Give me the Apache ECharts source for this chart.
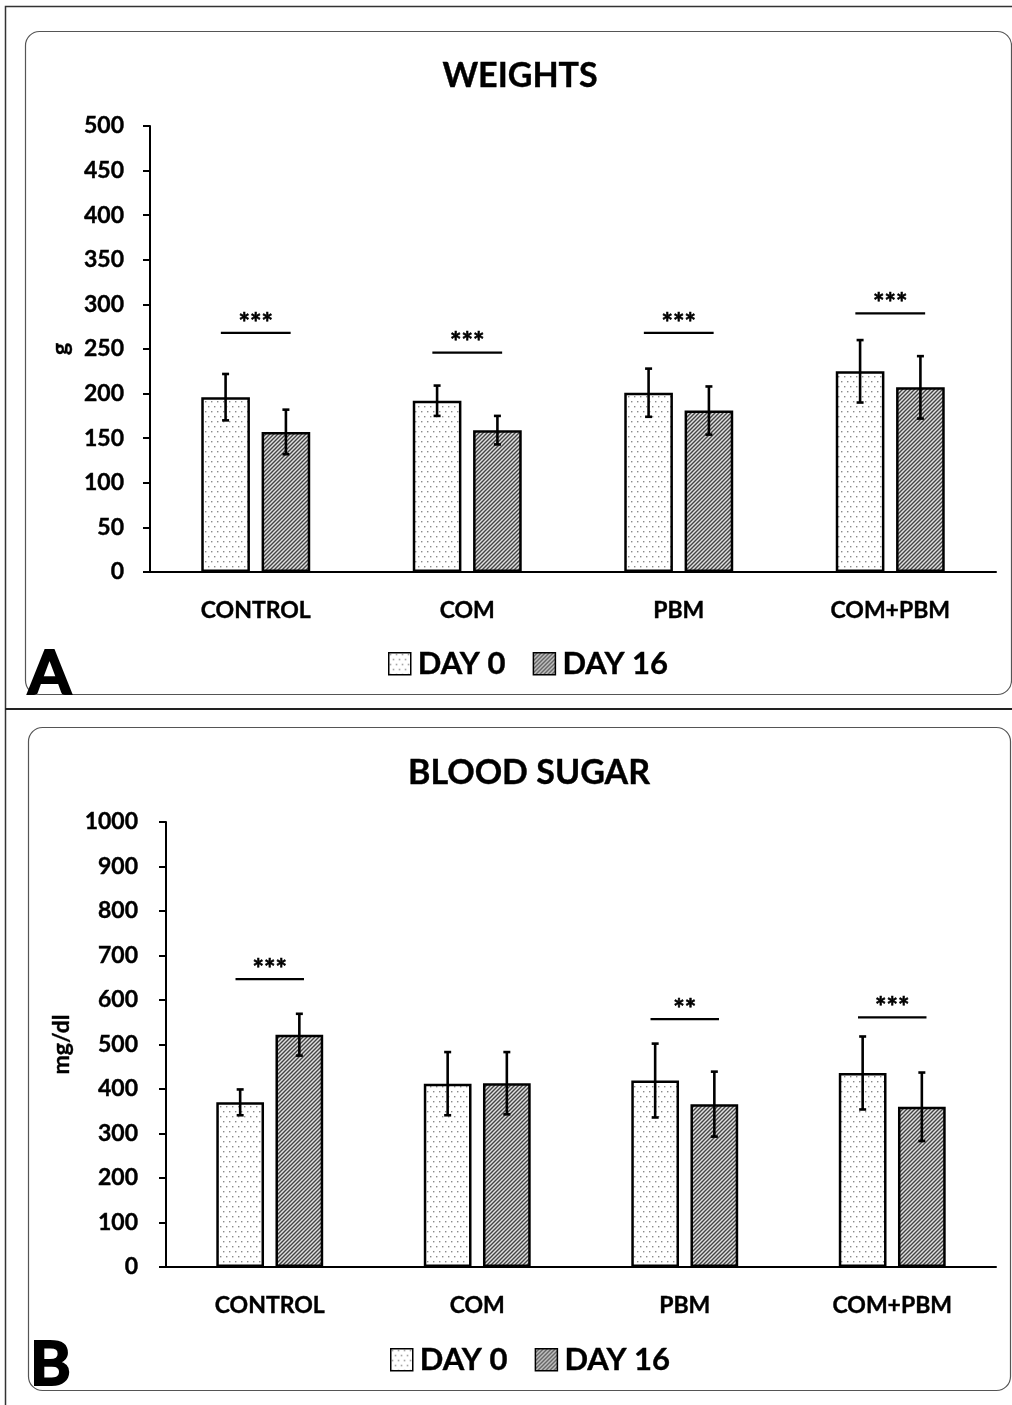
<!DOCTYPE html>
<html>
<head>
<meta charset="utf-8">
<script src="https://cdn.jsdelivr.net/npm/echarts@6/dist/echarts.min.js"></script>
<style>
html,body{margin:0;padding:0;background:#fff;}
#chart{width:1012px;height:1405px;}
</style>
</head>
<body>
<div id="chart"></div>
<script>
// ---------- DATA ----------
const categories = ['CONTROL', 'COM', 'PBM', 'COM+PBM'];
const seriesNames = ['DAY 0', 'DAY 16'];

const weightDay0 = [196, 192, 201, 225];
const weightDay0Sd = [26, 17, 27, 35];
const weightDay16 = [157, 159, 181, 207];
const weightDay16Sd = [25, 16, 27, 35];
const weightSig = [268, 246, 268, 290];
const weightSigLabels = ['***', '***', '***', '***'];
const weightTicks = { min: 0, max: 500, interval: 50 };

const sugarDay0 = [370, 412, 419, 436];
const sugarDay0Sd = [29, 71, 83, 82];
const sugarDay16 = [522, 413, 366, 360];
const sugarDay16Sd = [47, 70, 73, 77];
const sugarSig = [647, null, 557, 561];
const sugarSigLabels = ['***', '', '**', '***'];
const sugarTicks = { min: 0, max: 1000, interval: 100 };

// ---------- STYLE ----------
const FONT = 'Lato';
const BW = 0.23, GAP = 0.24;

function makeDots() {
  const c = document.createElement('canvas');
  c.width = 6; c.height = 10;
  const g = c.getContext('2d');
  g.fillStyle = '#ffffff'; g.fillRect(0, 0, 6, 10);
  g.fillStyle = '#8a8a8a';
  g.fillRect(1, 1, 1.4, 1.4);
  g.fillRect(4, 6, 1.4, 1.4);
  return c;
}
function makeHatch() {
  const c = document.createElement('canvas');
  c.width = 4; c.height = 4;
  const g = c.getContext('2d');
  g.fillStyle = '#e0e0e0'; g.fillRect(0, 0, 4, 4);
  g.strokeStyle = '#444'; g.lineWidth = 1.4;
  g.beginPath();
  g.moveTo(-1, 5); g.lineTo(5, -1);
  g.moveTo(-1, 1); g.lineTo(1, -1);
  g.moveTo(3, 5); g.lineTo(5, 3);
  g.stroke();
  return c;
}
const dotFill = { image: makeDots(), repeat: 'repeat' };
const hatchFill = { image: makeHatch(), repeat: 'repeat' };
const fills = [dotFill, hatchFill];

function errRender(sign) {
  return function (params, api) {
    const ci = api.value(0), v = api.value(1), sd = api.value(2);
    const band = api.size([1, 0])[0];
    const bw = band * BW, gap = bw * GAP;
    const x = api.coord([ci, v])[0] + sign * (bw + gap) / 2;
    const yT = api.coord([ci, v + sd])[1];
    const yB = api.coord([ci, v - sd])[1];
    const st = { stroke: '#000', lineWidth: 2.6 };
    return {
      type: 'group',
      children: [
        { type: 'line', shape: { x1: x, y1: yT, x2: x, y2: yB }, style: st },
        { type: 'line', shape: { x1: x - 3.5, y1: yT, x2: x + 3.5, y2: yT }, style: st },
        { type: 'line', shape: { x1: x - 3.5, y1: yB, x2: x + 3.5, y2: yB }, style: st }
      ]
    };
  };
}
function sigRender(labels) {
  return function (params, api) {
    const ci = api.value(0), v = api.value(1);
    const band = api.size([1, 0])[0];
    const p = api.coord([ci, v]);
    const half = band * 0.165;
    return {
      type: 'group',
      children: [
        { type: 'line', shape: { x1: p[0] - half, y1: p[1], x2: p[0] + half, y2: p[1] },
          style: { stroke: '#000', lineWidth: 2.2 } },
        { type: 'text', x: p[0], y: p[1] - 10,
          style: { text: labels[api.value(2)], fill: '#000', font: 'bold 27px ' + FONT,
                   align: 'center', verticalAlign: 'middle', stroke: '#000', lineWidth: 0.6 } }
      ]
    };
  };
}

function errData(vals, sds) { return vals.map((v, i) => [i, v, sds[i]]); }
function sigData(vals) {
  const out = [];
  vals.forEach((v, i) => { if (v !== null) out.push([i, v, i]); });
  return out;
}

function barSeries(name, data, idx, axisIdx) {
  return {
    name: name, type: 'bar', xAxisIndex: axisIdx, yAxisIndex: axisIdx,
    data: data, barWidth: (BW * 100) + '%', barGap: (GAP * 100) + '%',
    itemStyle: { color: fills[idx], borderColor: '#000', borderWidth: 2.5 },
    emphasis: { disabled: true }, z: 2
  };
}
function customSeries(render, data, axisIdx, name) {
  return {
    type: 'custom', name: name, xAxisIndex: axisIdx, yAxisIndex: axisIdx,
    renderItem: render, data: data, encode: { x: 0, y: 1 }, z: 5, silent: true
  };
}

const txt = { color: '#000', fontFamily: FONT, fontWeight: 'bold', textBorderColor: '#000', textBorderWidth: 0.4 };

function xAxisCfg(gi) {
  return {
    type: 'category', gridIndex: gi, data: categories,
    axisLine: { lineStyle: { color: '#000', width: 2 } },
    axisTick: { show: false },
    axisLabel: Object.assign({ fontSize: 23, margin: 27 }, txt)
  };
}
function yAxisCfg(gi, ticks, name, nameGap, margin) {
  return {
    type: 'value', gridIndex: gi, min: ticks.min, max: ticks.max, interval: ticks.interval,
    name: name, nameLocation: 'middle', nameRotate: 90, nameGap: nameGap,
    nameTextStyle: Object.assign({ fontSize: 23 }, txt),
    axisLine: { show: true, lineStyle: { color: '#000', width: 2 } },
    axisTick: { show: true, length: 7, lineStyle: { color: '#000', width: 2 } },
    splitLine: { show: false },
    axisLabel: Object.assign({ fontSize: 23, margin: margin, formatter: function (v) { return String(v); } }, txt)
  };
}
function legendCfg(left, top) {
  return {
    left: left, top: top, orient: 'horizontal',
    itemWidth: 22, itemHeight: 22, itemGap: 27,
    icon: 'rect',
    data: [
      { name: seriesNames[0], itemStyle: { color: dotFill, borderColor: '#000', borderWidth: 1.5 } },
      { name: seriesNames[1], itemStyle: { color: hatchFill, borderColor: '#000', borderWidth: 1.5 } }
    ],
    textStyle: Object.assign({ fontSize: 31, padding: [0, 0, 0, 2] }, txt),
    selectedMode: false
  };
}

const chart = echarts.init(document.getElementById('chart'), null, { renderer: 'canvas' });
chart.setOption({
  backgroundColor: '#fff',
  animation: false,
  title: [
    { text: 'WEIGHTS', left: 515, top: 54, textAlign: 'center',
      textStyle: Object.assign({ fontSize: 34 }, txt) },
    { text: 'BLOOD SUGAR', left: 524, top: 751, textAlign: 'center',
      textStyle: Object.assign({ fontSize: 34 }, txt) }
  ],
  legend: [legendCfg(383, 643), legendCfg(385, 1339)],
  grid: [
    { left: 150, top: 126, width: 846, height: 446 },
    { left: 166, top: 822, width: 830, height: 445 }
  ],
  xAxis: [xAxisCfg(0), xAxisCfg(1)],
  yAxis: [yAxisCfg(0, weightTicks, 'g', 78, 26), yAxisCfg(1, sugarTicks, 'mg/dl', 90, 28)],
  graphic: [
    { type: 'polyline', shape: { points: [[1012, 6.5], [5.5, 6.5], [5.5, 1405]] },
      style: { stroke: '#333', lineWidth: 1.5, fill: null }, silent: true },
    { type: 'line', shape: { x1: 5, y1: 709, x2: 1012, y2: 709 },
      style: { stroke: '#222', lineWidth: 2 }, silent: true },
    { type: 'rect', shape: { x: 25.5, y: 31.5, width: 986, height: 663, r: 14 },
      style: { stroke: '#555', lineWidth: 1.2, fill: null }, silent: true },
    { type: 'rect', shape: { x: 28.5, y: 727.5, width: 982, height: 663, r: 14 },
      style: { stroke: '#555', lineWidth: 1.2, fill: null }, silent: true },
    { type: 'text', left: 27, top: 642,
      style: { text: 'A', fill: '#000', font: 'bold 62px ' + FONT, stroke: '#000', lineWidth: 2 }, silent: true },
    { type: 'text', left: 29, top: 1333,
      style: { text: 'B', fill: '#000', font: 'bold 62px ' + FONT, stroke: '#000', lineWidth: 2 }, silent: true }
  ],
  series: [
    barSeries(seriesNames[0], weightDay0, 0, 0),
    barSeries(seriesNames[1], weightDay16, 1, 0),
    customSeries(errRender(-1), errData(weightDay0, weightDay0Sd), 0),
    customSeries(errRender(1), errData(weightDay16, weightDay16Sd), 0),
    customSeries(sigRender(weightSigLabels), sigData(weightSig), 0),
    barSeries(seriesNames[0], sugarDay0, 0, 1),
    barSeries(seriesNames[1], sugarDay16, 1, 1),
    customSeries(errRender(-1), errData(sugarDay0, sugarDay0Sd), 1),
    customSeries(errRender(1), errData(sugarDay16, sugarDay16Sd), 1),
    customSeries(sigRender(sugarSigLabels), sigData(sugarSig), 1)
  ]
});
</script>
</body>
</html>
